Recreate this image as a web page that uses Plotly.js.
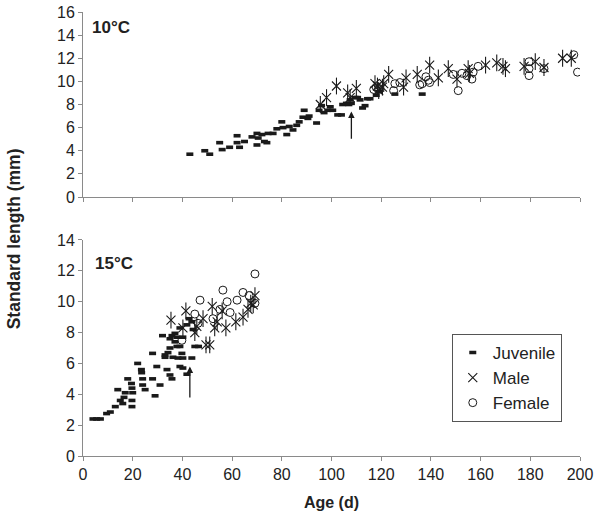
<!DOCTYPE html>
<html>
<head>
<meta charset="utf-8">
<script src="https://cdn.plot.ly/plotly-3.0.1.min.js"></script>
<style>html,body{margin:0;padding:0;background:#fff;}</style>
</head>
<body>
<div id="chart" style="width:603px;height:525px;"></div>
<script>
// ---- 10 °C panel ----
const juv10Age = [43,49,51,55,56,59,62,62,63,65,68,70,70.5,70,72,73,74,74.5,76.5,78,80,80.5,82,83,84.5,86,87,88.5,89,90.5,91,94,95,96,97,98.5,99.5,100.5,102.5,104,104.5,106,107,107.5,108,109.5,110.5,111.5,112.5,113.5,114.5,115.5,118,119,125.5,136.5];
const juv10Len = [3.7,4.0,3.7,4.7,4.1,4.3,5.3,4.7,4.3,4.8,5.2,5.5,5.1,4.5,5.4,4.8,4.7,5.5,5.5,5.9,6.5,6.0,5.4,6.1,5.8,6.2,6.5,6.9,7.5,6.8,7.0,6.4,7.5,7.9,7.3,7.5,7.8,7.5,7.1,7.1,8.0,8.1,8.0,8.4,8.1,8.6,8.6,8.4,7.7,7.9,8.5,8.5,8.8,9.1,8.9,8.9];
const male10Age = [95.5,98,102,106.5,107.5,110,117.5,118.5,119,120.5,121,123,129,130,134.5,139.5,143,147,150.5,155,155.5,162,166.5,169,170,177.5,182,185.5,193,196.5];
const male10Len = [8.0,8.6,9.6,9.0,8.6,9.4,9.8,9.6,9.2,9.5,9.8,10.6,9.5,10.3,10.6,11.4,10.3,11.1,10.2,11.1,10.7,11.4,11.6,11.3,11.1,11.3,11.7,11.2,12.0,12.0];
const fem10Age = [117,118,125,125.5,127.5,135.5,136.5,138,139,139.5,149,151,152.5,154.5,156.5,157,159,179.5,179.5,179.5,185.5,197.5,199];
const fem10Len = [9.3,9.5,9.2,9.8,9.9,9.7,9.8,10.4,10.1,9.9,10.6,9.2,10.7,10.5,10.2,10.8,11.3,11.7,11.1,10.5,11.1,12.3,10.8];

// ---- 15 °C panel ----
const juv15Age = [4,5.5,7,9.5,11,13,14,15,16,16.5,17,18,19.5,19.7,20,19.7,19.7,22,23.5,23.6,24,24,25,28,28,29,29.7,31,32,33,33,33.8,34.2,35,35,35,35.8,35.8,36.2,37,37,37.8,37.8,38.2,39,39,39,39.8,40.2,40.2,40.2,41.8,42.7,43.8,44.3,43.8,45,46.5,41.8];
const juv15Len = [2.4,2.4,2.4,2.75,2.85,3.2,4.3,3.6,3.4,3.8,4.1,5.0,4.7,4.4,4.1,3.6,3.2,6.0,5.6,5.4,5.0,4.6,4.3,6.65,5.0,3.9,5.8,4.6,7.8,6.55,6.4,5.6,6.7,5.25,7.6,7.0,5.0,7.8,6.4,7.4,7.95,7.7,7.1,6.35,7.1,5.8,8.3,6.65,7.7,6.35,5.7,8.5,8.9,8.7,8.2,6.35,7.1,7.1,5.3];
const male15Age = [35.4,40.2,41.4,45,45.8,48.3,49.5,51,52,53,54,56,57.5,61.5,64.4,66.4,67.5,68.5,69.2];
const male15Len = [8.8,8.3,9.4,8.0,8.4,8.9,7.2,7.2,9.7,8.3,8.7,9.4,8.3,8.7,9.0,9.5,9.9,9.8,10.4];
const fem15Age = [39.8,45,46.3,47.1,52.3,55.1,56.3,58,59.2,62,64.4,66.8,69.2,69.2];
const fem15Len = [7.5,9.2,8.6,10.1,8.9,9.5,10.75,10.0,9.3,10.1,10.6,10.4,9.9,11.8];

// arrows: [age, tail length, head length]
const arrow10 = [108, 4.9, 7.4];
const arrow15 = [43, 3.7, 5.8];

const seriesNames = ['Juvenile', 'Male', 'Female'];
const panelLabels = ['10°C', '15°C'];
const xTicks = [0,20,40,60,80,100,120,140,160,180,200];

const INK = '#1a1a1a';
const juvMarker = {symbol:'line-ew', size:5, color:INK, line:{color:INK, width:3.6}};
const maleX = {symbol:'x-thin-open', size:9, color:INK, line:{color:INK, width:1.1}};
const maleV = {symbol:'line-ns-open', size:12, color:INK, line:{color:INK, width:1.1}};
const femMarker = {symbol:'circle-open', size:8, color:INK, line:{color:INK, width:1}};

function tr(x, y, marker, name, show, xa, ya){
  return {type:'scatter', mode:'markers', x:x, y:y, marker:marker, name:name,
          showlegend:show, legendgroup:name, xaxis:xa, yaxis:ya, hoverinfo:'x+y'};
}

const data = [
  tr(juv10Age, juv10Len, juvMarker, seriesNames[0], true, 'x', 'y'),
  tr(male10Age, male10Len, maleX, seriesNames[1], true, 'x', 'y'),
  tr(fem10Age, fem10Len, femMarker, seriesNames[2], true, 'x', 'y'),
  tr(male10Age, male10Len, maleV, seriesNames[1], false, 'x', 'y'),
  tr(juv15Age, juv15Len, juvMarker, seriesNames[0], false, 'x2', 'y2'),
  tr(male15Age, male15Len, maleX, seriesNames[1], false, 'x2', 'y2'),
  tr(male15Age, male15Len, maleV, seriesNames[1], false, 'x2', 'y2'),
  tr(fem15Age, fem15Len, femMarker, seriesNames[2], false, 'x2', 'y2')
];

const AX = '#8a8a8a';
const tickFont = {family:'Liberation Sans, Arial, sans-serif', size:16, color:'#222'};
function xa(showLabels, anchor){
  return {domain:[0,1], range:[0,200], anchor:anchor, tickmode:'array', tickvals:xTicks,
    showticklabels:showLabels, ticks:'outside', ticklen:4, tickcolor:AX, tickwidth:1,
    showline:true, linecolor:AX, linewidth:1, showgrid:false, zeroline:false, tickfont:tickFont};
}
function ya(dom, max, anchor){
  return {domain:dom, range:[0,max], anchor:anchor, dtick:2, tick0:0,
    ticks:'outside', ticklen:4, tickcolor:AX, tickwidth:1,
    showline:true, linecolor:AX, linewidth:1, showgrid:false, zeroline:false, tickfont:tickFont};
}

const xaxis2 = xa(true, 'y2');
xaxis2.title = {text:'<b>Age (d)</b>', font:{family:'Liberation Sans, Arial, sans-serif', size:16, color:'#222'}, standoff:14};

const layout = {
  width:603, height:525,
  margin:{l:83, r:23, t:12, b:69},
  paper_bgcolor:'#fff', plot_bgcolor:'#fff',
  font:{family:'Liberation Sans, Arial, sans-serif', size:15, color:'#222'},
  showlegend:true,
  xaxis: xa(false, 'y'),
  yaxis: ya([0.5833,1], 16, 'x'),
  xaxis2: xaxis2,
  yaxis2: ya([0,0.4865], 14, 'x2'),
  legend:{x:0.742, y:0.275, xanchor:'left', yanchor:'top', bgcolor:'#fff',
    bordercolor:'#555', borderwidth:1, itemwidth:30, tracegroupgap:0,
    font:{family:'Liberation Sans, Arial, sans-serif', size:17, color:'#222'}},
  annotations:[
    {xref:'x', yref:'y', x:2.8, y:14.7, xanchor:'left', yanchor:'middle', showarrow:false,
     text:'<b>'+panelLabels[0]+'</b>', font:{size:17, color:'#222'}},
    {xref:'x2', yref:'y2', x:4, y:12.5, xanchor:'left', yanchor:'middle', showarrow:false,
     text:'<b>'+panelLabels[1]+'</b>', font:{size:17, color:'#222'}},
    {xref:'paper', yref:'paper', x:-0.137, y:0.49, xanchor:'center', yanchor:'middle',
     showarrow:false, textangle:-90, text:'<b>Standard length (mm)</b>', font:{size:17.5, color:'#222'}},
    {xref:'x', yref:'y', x:arrow10[0], y:arrow10[2], axref:'x', ayref:'y', ax:arrow10[0], ay:arrow10[1],
     showarrow:true, arrowhead:2, arrowsize:1, arrowwidth:1.3, arrowcolor:INK, text:''},
    {xref:'x2', yref:'y2', x:arrow15[0], y:arrow15[2], axref:'x2', ayref:'y2', ax:arrow15[0], ay:arrow15[1],
     showarrow:true, arrowhead:2, arrowsize:1, arrowwidth:1.3, arrowcolor:INK, text:''}
  ]
};

Plotly.newPlot('chart', data, layout, {displayModeBar:false, staticPlot:true});
</script>
</body>
</html>
